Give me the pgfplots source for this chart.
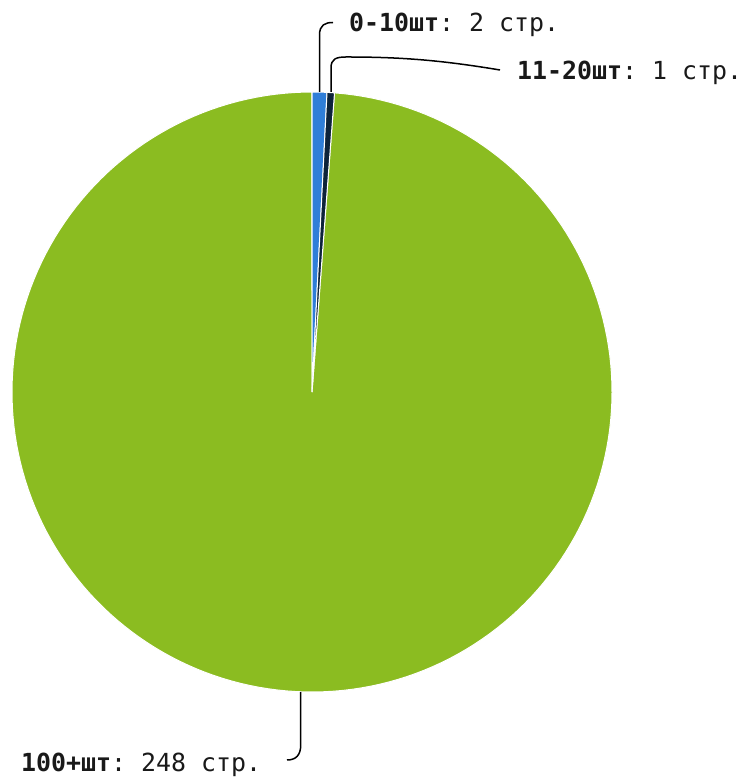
\documentclass[border=0pt]{standalone}
\usepackage{fontspec}
\setmainfont{DejaVu Sans}
\setmonofont{DejaVu Sans Mono}
\usepackage{pgfplots}
\pgfplotsset{compat=1.18}
\definecolor{hcblue}{HTML}{2F7ED8}
\definecolor{hcdark}{HTML}{0D233A}
\definecolor{hcgreen}{HTML}{8BBC21}
% slice values (pages per category)
\newcommand\va{2}
\newcommand\vb{1}
\newcommand\vc{248}
\pgfmathsetmacro\total{\va+\vb+\vc}
\pgfmathsetmacro\azero{90}
\pgfmathsetmacro\aone{\azero-360*(\va/\total)}
\pgfmathsetmacro\atwo{\aone-360*(\vb/\total)}
\pgfmathsetmacro\athree{\atwo-360*(\vc/\total)}
\begin{document}
\begin{tikzpicture}
\begin{axis}[
  scale only axis, width=745bp, height=780bp,
  xmin=0, xmax=745, ymin=0, ymax=780,
  hide axis, clip=false,
]
\path (axis cs:0,0) rectangle (axis cs:745,780);
\addplot[fill=hcgreen, draw=white, line width=1bp, domain=\athree:\atwo, samples=200, variable=\t]
  ({312+300*cos(\t)},{388+300*sin(\t)}) -- (axis cs:312,388) -- cycle;
\addplot[fill=hcblue, draw=white, line width=1bp, domain=\aone:\azero, samples=10, variable=\t]
  ({312+300*cos(\t)},{388+300*sin(\t)}) -- (axis cs:312,388) -- cycle;
\addplot[fill=hcdark, draw=white, line width=1bp, domain=\atwo:\aone, samples=10, variable=\t]
  ({312+300*cos(\t)},{388+300*sin(\t)}) -- (axis cs:312,388) -- cycle;
% leader lines
\draw[black, line width=1.5bp] (axis cs:319.5,688) -- (axis cs:319.5,745)
  .. controls (axis cs:319.5,755) and (axis cs:325,757.5) .. (axis cs:333,757.5);
\draw[black, line width=1.5bp] (axis cs:331,688) -- (axis cs:331,712)
  .. controls (axis cs:331,721) and (axis cs:336,723) .. (axis cs:346,723)
  .. controls (axis cs:400,723) and (axis cs:440,720) .. (axis cs:500,710);
\draw[black, line width=1.5bp] (axis cs:300.7,88) -- (axis cs:300.7,35)
  .. controls (axis cs:300.7,25) and (axis cs:296,20) .. (axis cs:287,20);
% labels
\node[anchor=base west, inner sep=0pt, font=\ttfamily\fontsize{24.9bp}{30bp}\selectfont, text=black!90]
  at (axis cs:349,748) {\textbf{0-10шт}: 2 стр.};
\node[anchor=base west, inner sep=0pt, font=\ttfamily\fontsize{24.9bp}{30bp}\selectfont, text=black!90]
  at (axis cs:517,700) {\textbf{11-20шт}: 1 стр.};
\node[anchor=base west, inner sep=0pt, font=\ttfamily\fontsize{24.9bp}{30bp}\selectfont, text=black!90]
  at (axis cs:21,8) {\textbf{100+шт}: 248 стр.};
\end{axis}
\end{tikzpicture}
\end{document}
